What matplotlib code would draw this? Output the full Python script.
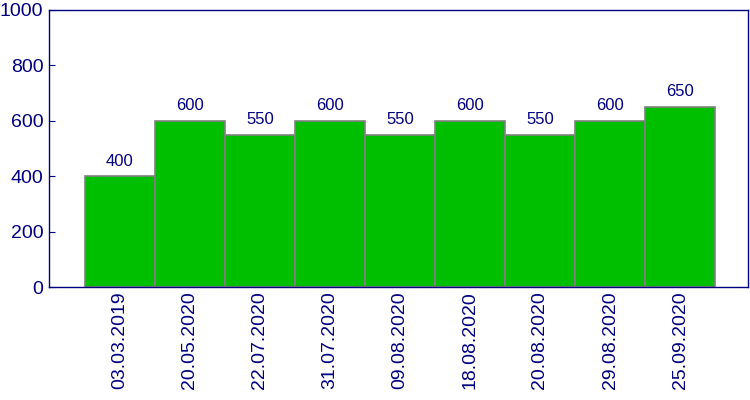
import matplotlib.pyplot as plt

plt.rcParams['font.family'] = ['Liberation Sans', 'DejaVu Sans']

dates = ["03.03.2019", "20.05.2020", "22.07.2020", "31.07.2020", "09.08.2020",
         "18.08.2020", "20.08.2020", "29.08.2020", "25.09.2020"]
values = [400, 600, 550, 600, 550, 600, 550, 600, 650]

navy = '#000080'

fig = plt.figure(figsize=(7.5, 4), dpi=100)
ax = fig.add_axes([49 / 750, 1 - 287 / 400, 699 / 750, 277 / 400])

x = range(len(values))
bars = ax.bar(x, values, width=1.0, color='#00bf00', edgecolor='#808080', linewidth=1.2)

for xi, v in zip(x, values):
    ax.annotate(str(v), (xi, v), xytext=(0, 5.5), textcoords='offset points',
                ha='center', va='bottom', fontsize=12, color=navy)

ax.set_xlim(-1.01, 8.97)
ax.set_ylim(0, 1000)
ax.set_yticks(range(0, 1001, 200))
ax.set_xticks(list(x))
ax.set_xticklabels(dates, rotation=90, fontsize=14, color=navy)
ax.tick_params(axis='x', length=0, pad=3)
ax.tick_params(axis='y', direction='in', length=4, color=navy, labelsize=14,
               labelcolor=navy, pad=4)
for s in ax.spines.values():
    s.set_color(navy)
    s.set_linewidth(1)

fig.savefig('out.png', dpi=100)
